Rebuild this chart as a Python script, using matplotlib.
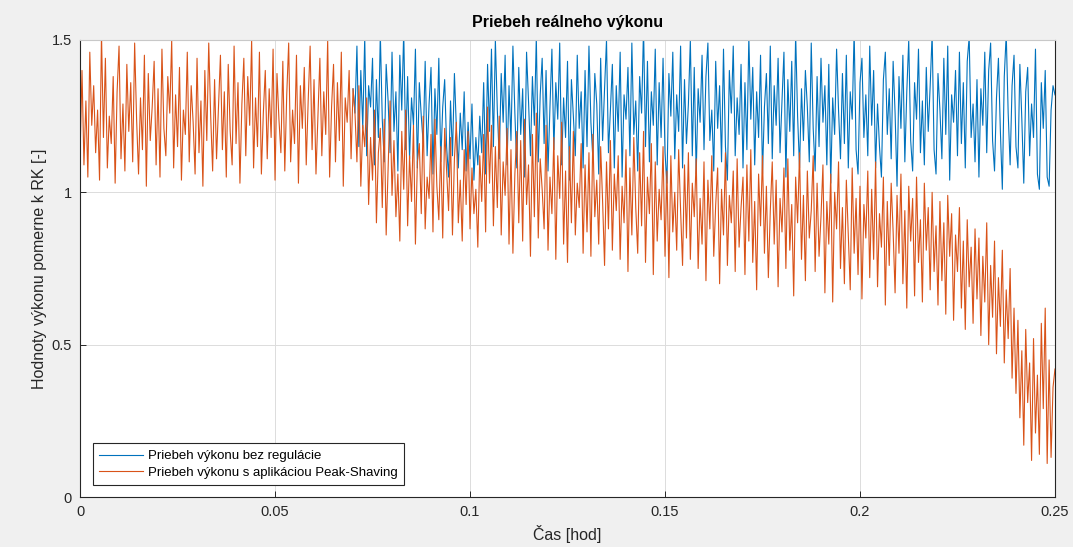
import numpy as np
import matplotlib
matplotlib.use('Agg')
from matplotlib import pyplot as plt

plt.rcParams['font.family'] = ['Liberation Sans', 'DejaVu Sans']

# casova os [hod], krok 0.0005
time_step = 0.0005

# spolocny usek (do t = 0.07 su oba priebehy zhodne)
shared_start = [
    1.12, 1.40, 1.09, 1.30, 1.05, 1.46, 1.22, 1.35, 1.13, 1.27, 1.04, 1.52, 1.18, 1.44, 1.08, 1.25, 1.16, 1.38, 1.03, 1.33,
    1.48, 1.11, 1.29, 1.07, 1.42, 1.20, 1.36, 1.10, 1.49, 1.24, 1.06, 1.31, 1.14, 1.45, 1.02, 1.39, 1.17, 1.28, 1.43, 1.09,
    1.34, 1.05, 1.47, 1.21, 1.12, 1.38, 1.26, 1.50, 1.08, 1.32, 1.15, 1.41, 1.04, 1.27, 1.19, 1.46, 1.10, 1.35, 1.23, 1.06,
    1.44, 1.13, 1.30, 1.02, 1.40, 1.17, 1.49, 1.25, 1.07, 1.37, 1.11, 1.28, 1.45, 1.14, 1.33, 1.05, 1.42, 1.20, 1.09, 1.48,
    1.16, 1.36, 1.03, 1.29, 1.44, 1.12, 1.38, 1.22, 1.50, 1.08, 1.31, 1.15, 1.46, 1.06, 1.26, 1.40, 1.11, 1.34, 1.18, 1.47,
    1.04, 1.39, 1.24, 1.13, 1.43, 1.07, 1.32, 1.49, 1.10, 1.27, 1.16, 1.45, 1.03, 1.35, 1.21, 1.41, 1.09, 1.30, 1.48, 1.14,
    1.37, 1.06, 1.25, 1.44, 1.12, 1.33, 1.19, 1.50, 1.05, 1.28, 1.42, 1.10, 1.36, 1.17, 1.46, 1.02, 1.31, 1.23, 1.40, 1.11,
    1.34,
]

# priebeh bez regulacie, t > 0.07
power_raw_late = [
    1.26, 1.48, 1.15, 1.40, 1.21, 1.51, 1.12, 1.35, 1.28, 1.44, 1.09, 1.37, 1.18, 1.52, 1.24, 1.10, 1.42, 1.30, 1.13, 1.46,
    1.20, 1.33, 1.07, 1.45, 1.27, 1.53, 1.14, 1.38, 1.11, 1.31, 1.22, 1.47, 1.08, 1.36, 1.25, 1.16, 1.43, 1.12, 1.29, 1.41,
    1.06, 1.34, 1.19, 1.44, 1.10, 1.28, 1.37, 1.15, 1.05, 1.30, 1.12, 1.39, 1.21, 1.08, 1.26, 1.14, 1.33, 1.07, 1.23, 1.11,
    1.29, 1.04, 1.18, 1.09, 1.25, 1.13, 1.36, 1.06, 1.42, 1.20, 1.47, 1.15, 1.50, 1.27, 1.11, 1.39, 1.23, 1.45, 1.09, 1.35,
    1.17, 1.48, 1.26, 1.08, 1.41, 1.19, 1.34, 1.05, 1.46, 1.30, 1.12, 1.38, 1.22, 1.51, 1.10, 1.32, 1.44, 1.16, 1.40, 1.07,
    1.28, 1.47, 1.14, 1.36, 1.24, 1.49, 1.09, 1.31, 1.18, 1.43, 1.04, 1.37, 1.25, 1.12, 1.45, 1.21, 1.33, 1.08, 1.40, 1.15,
    1.48, 1.23, 1.11, 1.39, 1.29, 1.06, 1.44, 1.17, 1.34, 1.50, 1.13, 1.27, 1.42, 1.08, 1.35, 1.20, 1.46, 1.05, 1.32, 1.24,
    1.41, 1.12, 1.49, 1.19, 1.30, 1.07, 1.38, 1.26, 1.54, 1.15, 1.43, 1.10, 1.33, 1.22, 1.47, 1.09, 1.36, 1.18, 1.44, 1.13,
    1.03, 1.39, 1.25, 1.46, 1.11, 1.32, 1.20, 1.48, 1.08, 1.37, 1.16, 1.29, 1.50, 1.12, 1.41, 1.06, 1.34, 1.23, 1.45, 1.14,
    1.38, 1.49, 1.17, 1.27, 1.07, 1.43, 1.21, 1.35, 1.10, 1.47, 1.15, 1.04, 1.40, 1.26, 1.48, 1.12, 1.31, 1.19, 1.42, 1.08,
    1.36, 1.14, 1.51, 1.24, 1.41, 1.09, 1.33, 1.18, 1.45, 1.06, 1.28, 1.39, 1.16, 1.48, 1.11, 1.35, 1.22, 1.44, 1.13, 1.30,
    1.46, 1.05, 1.37, 1.20, 1.43, 1.12, 1.52, 1.25, 1.08, 1.34, 1.17, 1.40, 1.28, 1.10, 1.49, 1.21, 1.07, 1.38, 1.15, 1.44,
    1.23, 1.35, 1.09, 1.42, 1.03, 1.31, 1.19, 1.47, 1.27, 1.11, 1.39, 1.16, 1.45, 1.08, 1.33, 1.24, 1.53, 1.14, 1.06, 1.36,
    1.44, 1.18, 1.32, 1.12, 1.48, 1.22, 1.40, 1.08, 1.29, 1.15, 1.05, 1.37, 1.46, 1.19, 1.34, 1.11, 1.43, 1.26, 1.02, 1.38,
    1.21, 1.45, 1.10, 1.33, 1.50, 1.17, 1.07, 1.36, 1.24, 1.47, 1.13, 1.30, 1.09, 1.41, 1.20, 1.35, 1.52, 1.14, 1.06, 1.39,
    1.27, 1.11, 1.44, 1.19, 1.48, 1.04, 1.32, 1.23, 1.40, 1.12, 1.46, 1.16, 1.36, 1.08, 1.43, 1.51, 1.18, 1.29, 1.10, 1.37,
    1.05, 1.34, 1.22, 1.46, 1.13, 1.40, 1.49, 1.17, 1.07, 1.31, 1.44, 1.20, 1.01, 1.38, 1.52, 1.26, 1.09, 1.35, 1.45, 1.15,
    1.08, 1.42, 1.24, 1.03, 1.33, 1.41, 1.12, 1.29, 1.18, 1.47, 1.06, 1.01, 1.36, 1.21, 1.40, 1.05, 1.02, 1.27, 1.35, 1.32,
]

# priebeh s Peak-Shaving, t > 0.07
power_ps_late = [
    1.26, 1.10, 1.35, 1.02, 1.22, 1.15, 1.31, 0.96, 1.18, 1.04, 1.27, 0.90, 1.13, 1.21, 0.95, 1.24, 0.86, 1.08, 1.30, 0.99,
    1.17, 0.92, 1.06, 0.84, 1.20, 1.01, 1.27, 0.89, 1.12, 0.97, 1.22, 0.83, 1.10, 1.16, 0.93, 1.25, 0.88, 1.05, 0.98, 1.19,
    0.87, 1.24, 1.02, 0.91, 1.15, 0.85, 1.21, 1.07, 0.94, 1.18, 0.86, 1.11, 1.23, 0.90, 1.04, 0.84, 1.14, 0.96, 1.20, 0.88,
    1.08, 0.93, 1.01, 0.82, 1.12, 0.97, 1.19, 0.87, 1.28, 1.03, 1.22, 0.89, 1.15, 0.95, 1.25, 0.86, 1.10, 0.99, 1.21, 0.83,
    1.14, 0.80, 1.06, 1.20, 0.90, 1.17, 0.84, 1.24, 0.96, 1.09, 0.79, 1.19, 0.92, 1.26, 0.85, 1.11, 1.01, 0.88, 1.22, 0.81,
    1.05, 0.93, 1.18, 0.78, 1.12, 0.98, 1.23, 0.83, 1.07, 0.77, 1.15, 0.90, 1.20, 0.86, 1.03, 0.95, 1.16, 0.80, 1.09, 0.87,
    1.13, 0.79, 1.19, 0.92, 1.04, 0.83, 1.15, 0.97, 0.76, 1.10, 0.88, 1.17, 0.81, 1.06, 0.94, 1.12, 0.78, 1.02, 0.90, 1.14,
    0.74, 1.08, 0.86, 1.18, 0.95, 0.80, 1.13, 0.89, 1.20, 0.77, 1.05, 0.93, 1.16, 0.73, 1.10, 0.84, 1.01, 0.91, 1.15, 0.79,
    1.07, 0.72, 1.12, 0.87, 1.00, 0.81, 1.14, 0.94, 0.76, 1.09, 0.85, 1.13, 0.78, 1.03, 0.92, 1.11, 0.75, 0.98, 0.83, 1.10,
    0.71, 1.04, 0.88, 1.12, 0.79, 0.96, 1.08, 0.70, 1.01, 0.86, 1.13, 0.76, 0.99, 0.90, 1.07, 0.74, 1.11, 0.82, 0.95, 1.05,
    0.73, 1.09, 0.84, 1.14, 0.77, 0.97, 0.68, 1.06, 0.89, 1.12, 0.80, 1.02, 0.72, 0.94, 1.10, 0.83, 1.04, 0.69, 0.98, 0.87,
    1.08, 0.75, 1.11, 0.81, 0.96, 0.66, 1.05, 0.90, 1.13, 0.78, 0.99, 0.71, 1.07, 0.85, 0.94, 1.12, 0.74, 1.03, 0.79, 0.92,
    1.09, 0.67, 0.97, 0.83, 1.06, 0.64, 1.00, 0.88, 1.10, 0.75, 0.95, 0.70, 1.04, 0.86, 0.68, 1.08, 0.80, 0.98, 0.73, 1.02,
    0.65, 0.96, 0.85, 1.07, 0.72, 1.01, 0.78, 1.10, 0.69, 0.93, 0.82, 1.05, 0.63, 0.97, 0.76, 1.03, 0.87, 0.67, 0.99, 0.80,
    1.06, 0.70, 0.94, 0.62, 1.02, 0.84, 0.98, 0.66, 1.05, 0.77, 0.91, 0.64, 1.03, 0.81, 0.95, 0.68, 1.00, 0.74, 0.89, 0.63,
    0.97, 0.71, 0.90, 0.60, 0.99, 0.79, 0.93, 0.58, 0.86, 0.74, 0.95, 0.62, 0.84, 0.55, 0.91, 0.69, 0.82, 0.57, 0.88, 0.65,
    0.85, 0.53, 0.79, 0.64, 0.90, 0.50, 0.76, 0.59, 0.84, 0.47, 0.72, 0.56, 0.81, 0.44, 0.68, 0.52, 0.75, 0.39, 0.62, 0.34,
    0.58, 0.26, 0.48, 0.17, 0.55, 0.31, 0.44, 0.12, 0.52, 0.21, 0.40, 0.14, 0.57, 0.29, 0.62, 0.11, 0.45, 0.13, 0.36, 0.42,
]

legendLabels = ['Priebeh výkonu bez regulácie', 'Priebeh výkonu s aplikáciou Peak-Shaving']

splitIndex = len(shared_start) - 1  # t = 0.07, odtial sa priebehy rozchadzaju
powerRaw = np.array(shared_start + power_raw_late)
powerPS = np.array(shared_start + power_ps_late)
timeRaw = np.arange(len(powerRaw)) * time_step
timePS = np.arange(len(powerPS)) * time_step

textColor = '#262626'
fig = plt.figure(figsize=(10.73, 5.47), dpi=100, facecolor='#f0f0f0')
ax = fig.add_axes([0.0746, 0.0914, 0.9086, 0.8355])
ax.set_facecolor('white')

# modry priebeh je v spolocnom useku prekryty oranzovym, kreslime ho az od rozchodu
ax.plot(timeRaw[splitIndex:], powerRaw[splitIndex:], color='#0072BD', lw=0.8, label=legendLabels[0])
ax.plot(timePS, powerPS, color='#D95319', lw=0.8, label=legendLabels[1])

ax.set_xlim(0, 0.25)
ax.set_ylim(0, 1.5)
ax.set_xticks([0, 0.05, 0.1, 0.15, 0.2, 0.25])
ax.set_xticklabels(['0', '0.05', '0.1', '0.15', '0.2', '0.25'])
ax.set_yticks([0, 0.5, 1, 1.5])
ax.set_yticklabels(['0', '0.5', '1', '1.5'])
ax.grid(True, color='#dcdcdc', lw=0.7)
ax.set_axisbelow(True)
ax.tick_params(direction='in', length=4, width=0.7, colors=textColor, labelsize=10.5,
               top=False, right=False, pad=6)
for side in ['left', 'bottom', 'right']:
    ax.spines[side].set_color(textColor)
    ax.spines[side].set_linewidth(0.8)
ax.spines['top'].set_color('#c8c8c8')
ax.spines['top'].set_linewidth(0.8)

ax.set_title('Priebeh reálneho výkonu', fontsize=11.5, fontweight='bold', color='black', pad=9)
ax.set_xlabel('Čas [hod]', fontsize=11.5, color=textColor, labelpad=4)
ax.set_ylabel('Hodnoty výkonu pomerne k RK [-]', fontsize=11.5, color=textColor, labelpad=3)

leg = ax.legend(loc='lower left', bbox_to_anchor=(0.013, 0.026), fontsize=9.5, frameon=True,
                fancybox=False, framealpha=1, edgecolor=textColor, handlelength=3.3,
                borderpad=0.5, labelspacing=0.3, handletextpad=0.4, borderaxespad=0)
leg.get_frame().set_linewidth(0.8)

fig.savefig('out.png', dpi=100, facecolor=fig.get_facecolor())
